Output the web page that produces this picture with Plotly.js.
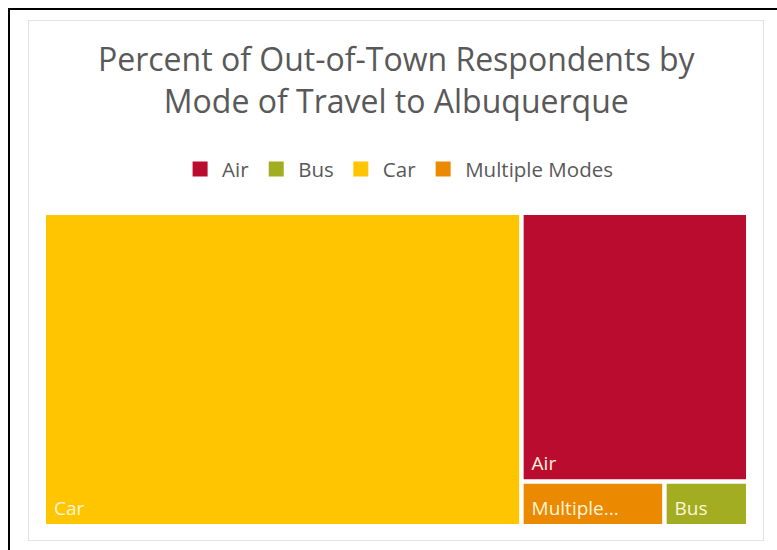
<!DOCTYPE html>
<html>
<head>
<meta charset="utf-8">
<script src="https://cdn.plot.ly/plotly-3.0.1.min.js"></script>
<style>
  html, body { margin: 0; padding: 0; background: #ffffff; }
  #wrap { position: relative; width: 777px; height: 550px; overflow: hidden; }
  #frame { position: absolute; left: 8px; top: 8px; width: 800px; height: 600px; border: 2px solid #000; box-sizing: border-box; pointer-events: none; }
  #inner { position: absolute; left: 28px; top: 20px; width: 736px; height: 521px; border: 1px solid #e3e3e3; box-sizing: border-box; pointer-events: none; }
  #chart { position: absolute; left: 0; top: 0; width: 777px; height: 550px; }
</style>
</head>
<body>
<div id="wrap">
  <div id="inner"></div>
  <div id="chart"></div>
  <div id="frame"></div>
</div>
<script>
// Data
const categories = ["Air", "Bus", "Car", "Multiple Modes"];
const percents = [27.6, 1.7, 67.8, 2.9];
const tileLabels = ["Air", "Bus", "Car", "Multiple..."];
const colors = ["#BA0C2F", "#A3AD21", "#FFC600", "#EB8A00"];

const FONT = "'Open Sans', sans-serif";

const traces = [{
  type: "treemap",
  labels: categories,
  parents: categories.map(() => ""),
  values: percents,
  text: tileLabels,
  texttemplate: "&nbsp;%{text}",
  textposition: "bottom left",
  textfont: { family: FONT, size: 19, color: "#FFF4DA" },
  marker: { colors: colors, line: { width: 0 }, pad: { t: 0, l: 0, r: 0, b: 0 } },
  tiling: { packing: "squarify", squarifyratio: 1, pad: 4.5 },
  pathbar: { visible: false },
  sort: true,
  hoverinfo: "label+value",
  showlegend: false,
  domain: { x: [0, 1], y: [0, 1] }
}];

categories.forEach((c, i) => {
  traces.push({
    type: "scatter", mode: "markers", x: [null], y: [null], name: c,
    marker: { symbol: "square", size: 15, color: colors[i] },
    showlegend: true, hoverinfo: "skip"
  });
});

const layout = {
  width: 777, height: 550,
  margin: { l: 46, r: 31, t: 215, b: 26 },
  paper_bgcolor: "rgba(0,0,0,0)",
  plot_bgcolor: "rgba(0,0,0,0)",
  font: { family: FONT, color: "#595959" },
  title: {
    text: "Percent of Out-of-Town Respondents by<br>Mode of Travel to Albuquerque",
    font: { family: FONT, size: 32, color: "#595959" },
    x: 0.510, xanchor: "center", xref: "container",
    y: 1 - 71 / 550, yanchor: "top", yref: "container"
  },
  xaxis: { visible: false },
  yaxis: { visible: false },
  showlegend: true,
  legend: {
    orientation: "h",
    x: 0.503, xanchor: "center",
    y: 1.148, yanchor: "middle",
    itemwidth: 34,
    font: { family: FONT, size: 20.5, color: "#595959" },
    bgcolor: "rgba(0,0,0,0)",
    traceorder: "normal"
  }
};

Plotly.newPlot("chart", traces, layout, { displayModeBar: false, staticPlot: true });
</script>
</body>
</html>
